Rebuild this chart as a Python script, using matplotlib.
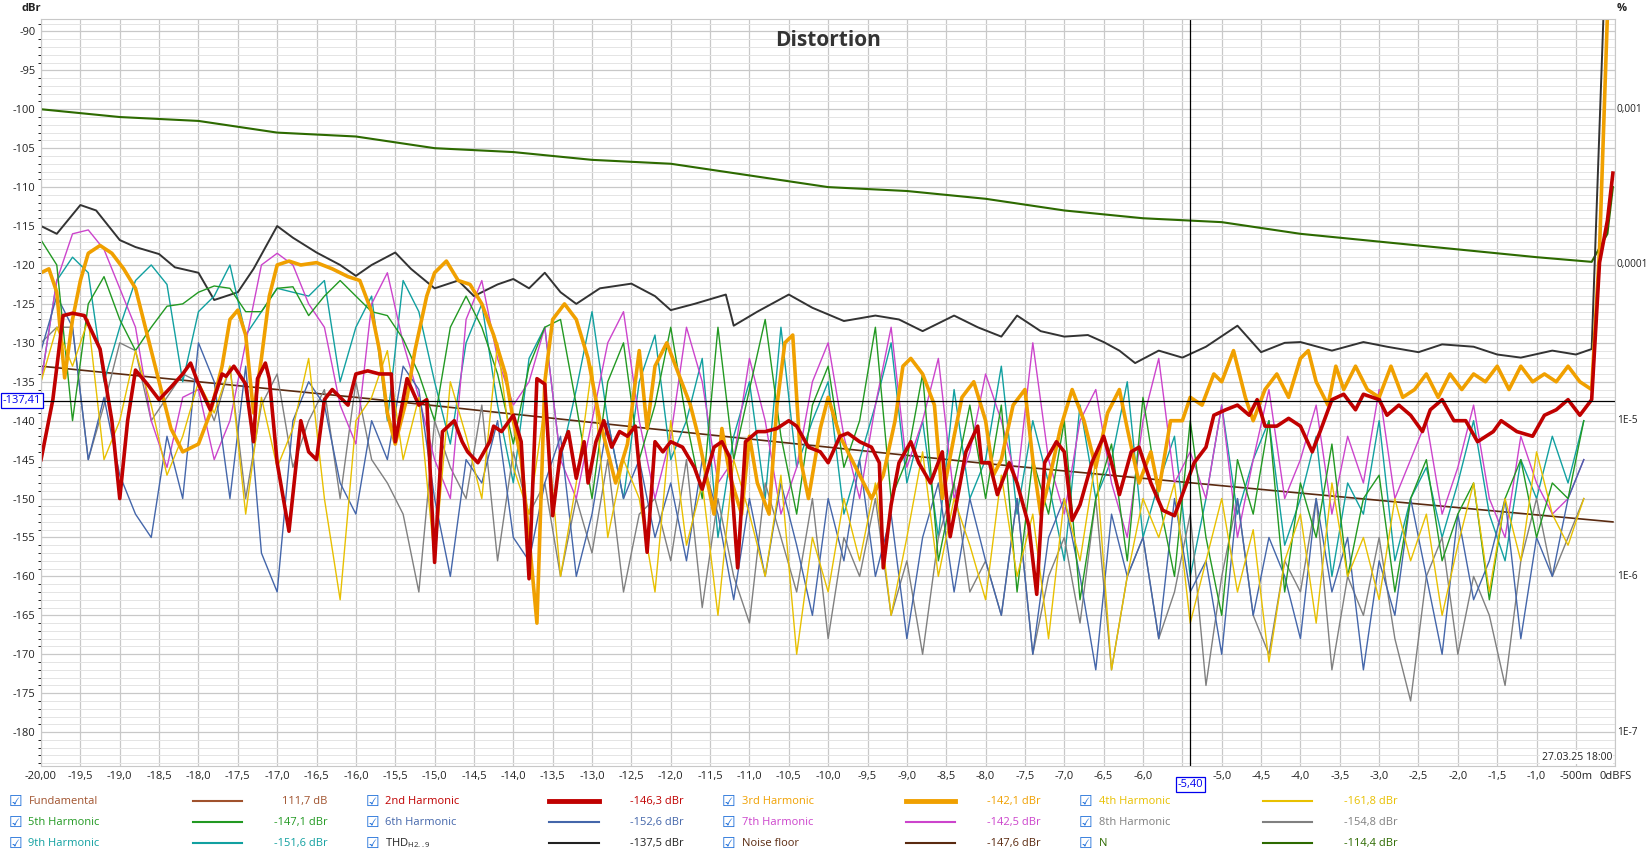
import numpy as np
import matplotlib
matplotlib.use("Agg")
import matplotlib.pyplot as plt
from matplotlib.lines import Line2D

plt.rcParams["font.family"] = ["Open Sans", "DejaVu Sans"]

# ---- data (dBr vs dBFS) ----
h2_x = [-20, -19.85, -19.72, -19.6, -19.45, -19.25, -19.1, -19.0, -18.9, -18.8, -18.65, -18.5, -18.35, -18.2, -18.1,
        -18.0, -17.85, -17.7, -17.65, -17.55, -17.4, -17.3, -17.25, -17.15, -17.1, -17.0, -16.85, -16.7, -16.6, -16.5,
        -16.4, -16.3, -16.1, -16.0, -15.85, -15.7, -15.55, -15.5, -15.35, -15.2, -15.1, -15.0, -14.9, -14.75, -14.65,
        -14.58, -14.45, -14.3, -14.25, -14.15, -14.0, -13.9, -13.8, -13.7, -13.6, -13.5, -13.4, -13.3, -13.2, -13.1,
        -13.05, -12.95, -12.85, -12.75, -12.65, -12.55, -12.45, -12.3, -12.2, -12.1, -12.0, -11.85, -11.7, -11.6,
        -11.45, -11.35, -11.25, -11.15, -11.05, -10.9, -10.8, -10.65, -10.5, -10.4, -10.25, -10.1, -10.0, -9.85,
        -9.75, -9.6, -9.45, -9.35, -9.3, -9.2, -9.1, -8.95, -8.85, -8.7, -8.55, -8.45, -8.35, -8.25, -8.1, -8.05,
        -7.95, -7.85, -7.7, -7.6, -7.45, -7.35, -7.25, -7.1, -7.0, -6.9, -6.8, -6.65, -6.5, -6.4, -6.3, -6.15, -6.05,
        -5.9, -5.75, -5.6, -5.5, -5.35, -5.2, -5.1, -4.95, -4.8, -4.65, -4.55, -4.45, -4.3, -4.15, -4.0, -3.85, -3.75,
        -3.6, -3.45, -3.3, -3.2, -3.0, -2.9, -2.75, -2.6, -2.45, -2.35, -2.2, -2.05, -1.9, -1.75, -1.55, -1.45, -1.25,
        -1.05, -0.9, -0.75, -0.6, -0.45, -0.3, -0.2, -0.1, -0.03]
h2_y = [-145, -137.3, -126.5, -126.2, -126.5, -130.8, -140, -150, -140, -133.5, -135.3, -137.3, -135.7, -134, -132.6,
        -135.3, -138.6, -134, -134.3, -133, -135.3, -142.7, -134.6, -132.6, -134.6, -145.4, -154.2, -140, -144, -145,
        -137.3, -136, -138, -134, -133.6, -134, -134, -142.7, -134.6, -138, -137.3, -158.2, -141.4, -140, -142.7,
        -144, -145.4, -142.7, -140.7, -141.4, -139.3, -142.7, -160.3, -134.6, -135.3, -152.2, -144, -141.4, -147.4, -142.7,
        -148, -142.7, -140, -143.4, -141.4, -142, -140.7, -156.9, -142.7, -144, -142.7, -143.4, -146, -148.8,
        -143.4, -142.7, -144.7, -158.9, -142.7, -141.4, -141.4, -141, -140, -140.7, -143.4, -144, -145.4, -142,
        -141.6, -142.7, -143.4, -145.4, -158.9, -150.8, -145.4, -142.7, -145.4, -148, -144, -154.9, -149.5, -144, -140.7, -145.4,
        -145.4, -149.5, -145.4, -148, -153.5, -162.3, -145.4, -142.7, -144, -152.8, -150.8, -145.4, -142, -145.4, -149.5, -144, -143.4,
        -148, -151.5, -152.2, -149.5, -145.4, -143.4, -139.3, -138.6, -138, -139.3, -137.3, -140.7, -140.7, -139.7, -140.7, -144, -141.4,
        -137.3, -136.6, -138.6, -136.6, -137.3, -139.3, -138, -139.3, -141.4, -138.6, -137.3, -140, -140, -142.7, -141.4, -140, -141.4,
        -142, -139.3, -138.6, -137.3, -139.3, -137.3, -119.7, -114.3, -108.2]

h3_x = [-20, -19.9, -19.8, -19.7, -19.6, -19.5, -19.4, -19.25, -19.1, -18.95, -18.8, -18.65, -18.5, -18.35, -18.2, -18.0,
        -17.85, -17.7, -17.6, -17.5, -17.4, -17.3, -17.2, -17.1, -17.0, -16.85, -16.7, -16.5, -16.3, -16.1, -15.95, -15.8,
        -15.7, -15.6, -15.5, -15.35, -15.25, -15.1, -15.0, -14.85, -14.7, -14.55, -14.4, -14.25, -14.1, -14.0, -13.9,
        -13.8, -13.7, -13.6, -13.5, -13.35, -13.2, -13.05, -12.9, -12.8, -12.7, -12.55, -12.4, -12.3, -12.2, -12.05,
        -11.9, -11.75, -11.65, -11.55, -11.45, -11.35, -11.25, -11.1, -11.0, -10.9, -10.75, -10.65, -10.55, -10.45,
        -10.35, -10.25, -10.1, -10.0, -9.85, -9.7, -9.55, -9.45, -9.3, -9.15, -9.05, -8.95, -8.8, -8.65, -8.55, -8.4,
        -8.3, -8.15, -8.0, -7.9, -7.8, -7.65, -7.5, -7.4, -7.3, -7.2, -7.05, -6.9, -6.75, -6.6, -6.45, -6.3, -6.2, -6.05,
        -5.9, -5.8, -5.65, -5.5, -5.4, -5.25, -5.1, -5.0, -4.85, -4.7, -4.6, -4.45, -4.3, -4.15, -4.0, -3.9, -3.8, -3.65,
        -3.55, -3.45, -3.3, -3.15, -3.0, -2.85, -2.7, -2.55, -2.4, -2.25, -2.1, -1.95, -1.8, -1.65, -1.5, -1.35, -1.2,
        -1.05, -0.9, -0.75, -0.6, -0.45, -0.3, -0.2, -0.1]
h3_y = [-121, -120.5, -123.5, -134.5, -127, -122, -118.5, -117.5, -118.5, -120.5, -123, -129, -135, -141, -144, -143,
        -139, -133, -127, -125.8, -129, -139, -132, -124, -120, -119.5, -120, -119.7, -120.5, -121.5, -122, -126,
        -131, -139, -143, -137, -131, -124, -121, -119.5, -122, -122.5, -125, -129, -134, -140, -145,
        -155, -166, -135, -127, -125, -127, -132, -140, -144, -148, -143, -131, -141, -133, -130,
        -134, -138, -142, -147, -152, -141, -147, -152, -142, -148, -152, -138, -130, -129,
        -145, -150, -141, -137, -142, -145, -148, -150, -147, -140, -133, -132, -134, -138, -150, -142,
        -137, -135, -140, -147, -145, -138, -136, -145, -152, -148, -141, -136, -140, -146, -139, -136, -141, -148,
        -144, -149, -140, -140, -137, -138, -134, -135, -131, -137, -140, -136, -134, -137, -132, -131, -135, -138,
        -133, -136, -133, -136, -137, -133, -137, -136, -134, -137, -134, -136, -134, -135, -133, -136, -133,
        -135, -134, -135, -133, -135, -136, -118, -88]

thd_x = [-20, -19.8, -19.5, -19.3, -19.0, -18.8, -18.5, -18.3, -18.0, -17.8, -17.5, -17.3, -17.0, -16.8, -16.5, -16.2,
         -16.0, -15.8, -15.5, -15.3, -15.0, -14.7, -14.5, -14.2, -14.0, -13.8, -13.6, -13.4, -13.2, -12.9, -12.5, -12.2,
         -12.0, -11.7, -11.3, -11.2, -10.9, -10.5, -10.2, -9.8, -9.4, -9.1, -8.8, -8.4, -8.1, -7.8, -7.6, -7.3, -7.0,
         -6.7, -6.5, -6.3, -6.1, -5.8, -5.5, -5.2, -4.8, -4.5, -4.2, -4.0, -3.6, -3.2, -2.9, -2.5, -2.2, -1.8, -1.5,
         -1.2, -0.8, -0.5, -0.3, -0.15]
thd_y = [-115, -116, -112.3, -113, -116.8, -117.7, -118.6, -120.3, -121, -124.5, -123.5, -120.5, -115, -116.5, -118.4, -120,
         -121.4, -120, -118.4, -120.5, -123, -122, -124, -122.5, -121.8, -123, -121, -123.5, -125, -123, -122.4, -124,
         -125.8, -125, -123.8, -127.8, -126, -123.8, -125.5, -127.2, -126.5, -127, -128.5, -126.5, -128, -129.2, -126.5, -128.5, -129.2,
         -129, -129.9, -131, -132.6, -131, -131.9, -130.5, -127.8, -131.2, -130, -129.9, -131, -129.9, -130.5, -131.2, -130.2, -130.5, -131.5,
         -131.9, -131, -131.5, -130.8, -88]

n_x = [-20, -19, -18, -17, -16, -15, -14, -13, -12, -11, -10, -9, -8, -7, -6, -5, -4, -3, -2, -1, -0.3, -0.1, -0.03]
n_y = [-100, -101, -101.5, -103, -103.5, -105, -105.5, -106.5, -107, -108.5, -110, -110.5, -111.5, -113,
       -114, -114.5, -116, -117, -118, -119, -119.6, -116, -110]

noise_x = [-20, -16, -12, -8, -4, -0.03]
noise_y = [-133, -137, -141.3, -145.5, -149.3, -153]

step_x = np.arange(-20, -0.3, 0.2)  # 99 points
h4_y = [-135, -128, -133, -127, -145, -140, -131, -138, -147, -142,
        -135, -139, -133, -152, -137, -146, -141, -132, -150, -163,
        -140, -137, -131, -145, -137, -158, -135, -142, -150, -130,
        -146, -152, -138, -160, -148, -133, -155, -145, -150, -162,
        -140, -156, -148, -165, -145, -152, -160, -147, -170, -155,
        -162, -150, -158, -148, -165, -155, -144, -160, -150, -156,
        -163, -147, -160, -152, -168, -150, -158, -145, -172, -160,
        -150, -155, -148, -166, -158, -150, -162, -154, -171, -158,
        -152, -166, -148, -160, -155, -163, -150, -158, -152, -165,
        -156, -148, -162, -150, -158, -144, -152, -156, -150]
h5_y = [-116.8, -120, -140, -125, -121.5, -127, -131, -128, -125.3, -125,
        -123.5, -122.7, -123, -126, -126, -123, -122.8, -126.5, -124, -122,
        -124, -126, -126.5, -129.5, -134, -140, -128, -124, -128, -134,
        -143, -133, -128, -127, -138, -150, -135, -130, -145, -138,
        -128, -140, -150, -128, -145, -136, -127, -142, -152, -138,
        -133, -146, -140, -128, -150, -145, -134, -158, -148, -138,
        -150, -138, -162, -145, -152, -140, -163, -150, -143, -158,
        -137, -150, -160, -140, -155, -165, -145, -152, -140, -162,
        -148, -155, -143, -160, -150, -147, -162, -150, -145, -158,
        -152, -148, -163, -150, -145, -155, -148, -150, -140]
h6_y = [-131, -124, -128, -145, -137, -147, -152, -155, -142, -150,
        -130, -135, -150, -133, -157, -162, -140, -135, -138, -148,
        -152, -140, -145, -133, -136, -150, -160, -145, -148, -140,
        -155, -158, -148, -142, -160, -152, -140, -150, -145, -155,
        -148, -158, -145, -152, -163, -150, -160, -148, -156, -165,
        -150, -158, -145, -160, -152, -168, -155, -148, -162, -150,
        -158, -165, -150, -170, -155, -150, -160, -172, -152, -160,
        -155, -168, -150, -162, -158, -170, -150, -165, -155, -160,
        -168, -150, -162, -155, -172, -158, -165, -150, -160, -170,
        -152, -163, -158, -150, -168, -155, -160, -150, -145]
h7_y = [-135, -122, -116, -115.5, -118, -123, -128, -140, -146, -137,
        -136, -145, -140, -130, -120, -118.5, -120, -125, -128, -138,
        -143, -125, -121, -130, -137, -145, -150, -127, -122, -132,
        -138, -135, -128, -145, -150, -140, -130, -126, -140, -150,
        -142, -128, -135, -148, -145, -132, -140, -152, -146, -135,
        -130, -142, -150, -138, -128, -146, -140, -132, -150, -144,
        -134, -140, -148, -130, -145, -152, -140, -136, -148, -155,
        -140, -132, -148, -144, -150, -138, -155, -145, -136, -150,
        -145, -138, -152, -142, -148, -136, -150, -145, -140, -152,
        -146, -138, -150, -155, -142, -148, -152, -150, -145]
h8_y = [-130, -128, -128, -145, -138, -130, -131, -140, -137, -134,
        -135, -140, -133, -150, -138, -134, -146, -140, -136, -150,
        -135, -145, -148, -152, -162, -140, -146, -150, -138, -158,
        -144, -152, -148, -160, -150, -157, -145, -162, -152, -150,
        -158, -145, -164, -150, -160, -166, -148, -155, -162, -150,
        -168, -155, -160, -150, -165, -158, -170, -155, -148, -162,
        -158, -165, -150, -170, -160, -155, -166, -150, -172, -160,
        -155, -168, -162, -152, -174, -160, -150, -165, -170, -158,
        -162, -150, -172, -160, -165, -155, -168, -176, -160, -155,
        -170, -160, -165, -174, -158, -150, -160, -155, -150]
h9_y = [-135, -122, -119, -121, -135, -128, -122, -120, -122.5, -135,
        -126, -124, -120, -129, -126, -123, -123.5, -124, -122, -135,
        -128, -124, -140, -122, -126, -135, -143, -130, -125, -138,
        -148, -132, -128, -145, -136, -126, -140, -150, -135, -129,
        -145, -140, -132, -155, -142, -135, -150, -128, -146, -140,
        -135, -152, -145, -138, -130, -148, -140, -155, -136, -150,
        -145, -133, -152, -140, -148, -158, -138, -150, -145, -135,
        -155, -148, -142, -160, -150, -138, -152, -145, -140, -156,
        -150, -142, -160, -148, -152, -140, -158, -150, -146, -155,
        -148, -140, -152, -158, -145, -150, -142, -148, -140]

legend_rows = [
    [("Fundamental", "#a0522d", 1.5, "111,7 dB"), ("2nd Harmonic", "#c00000", 3.5, "-146,3 dBr"),
     ("3rd Harmonic", "#f0a000", 3.5, "-142,1 dBr"), ("4th Harmonic", "#e8c000", 1.5, "-161,8 dBr")],
    [("5th Harmonic", "#229922", 1.5, "-147,1 dBr"), ("6th Harmonic", "#4466aa", 1.5, "-152,6 dBr"),
     ("7th Harmonic", "#cc44cc", 1.5, "-142,5 dBr"), ("8th Harmonic", "#808080", 1.5, "-154,8 dBr")],
    [("9th Harmonic", "#11a0a0", 1.5, "-151,6 dBr"), ("THD$_{\\mathregular{H2..9}}$", "#222222", 1.5, "-137,5 dBr"),
     ("Noise floor", "#5a2a10", 1.5, "-147,6 dBr"), ("N", "#2d6a00", 1.5, "-114,4 dBr")],
]

W, H = 1568.0, 813.0
fig = plt.figure(figsize=(16.5, 8.55), dpi=100)
ax = fig.add_axes([39 / W, 1 - 728 / H, (1535 - 39) / W, (728 - 18) / H])

ax.set_xlim(-20, 0)
ax.set_ylim(-184.3, -88.4)
ax.set_yticks(np.arange(-180, -89, 5))
ax.set_yticks(np.arange(-184, -88, 1), minor=True)
ax.set_yticklabels([f"{v}" for v in range(-180, -89, 5)])
xt = np.arange(-20, 0.01, 0.5)
ax.set_xticks(xt)
labels = []
for v in xt:
    if v == -20:
        labels.append("-20,00")
    elif v == -0.5:
        labels.append("-500m")
    elif v == 0:
        labels.append("0dBFS")
    elif v == -5.5:
        labels.append("")  # hidden behind the cursor readout
    else:
        labels.append(f"{v:.1f}".replace(".", ","))
ax.set_xticklabels(labels)
ax.grid(which="major", color="#c8c8c8", lw=0.9)
ax.grid(which="minor", axis="y", color="#e4e4e4", lw=0.7)
ax.tick_params(length=0, labelsize=8, colors="#222222", pad=4)
for s in ax.spines.values():
    s.set_color("#c8c8c8")

ax.plot(n_x, n_y, color="#2d6a00", lw=1.5)
ax.plot(noise_x, noise_y, color="#5a2a10", lw=1.2)
ax.plot(thd_x, thd_y, color="#333333", lw=1.4)
ax.plot(step_x, h9_y, color="#11a0a0", lw=1.0)
ax.plot(step_x, h8_y, color="#808080", lw=1.0)
ax.plot(step_x, h7_y, color="#cc44cc", lw=1.0)
ax.plot(step_x, h6_y, color="#4466aa", lw=1.0)
ax.plot(step_x, h5_y, color="#229922", lw=1.0)
ax.plot(step_x, h4_y, color="#e8c000", lw=1.0)
ax.plot(h3_x, h3_y, color="#f0a000", lw=2.6)
ax.plot(h2_x, h2_y, color="#c00000", lw=2.6)

# cursor
ax.axvline(-5.40, color="black", lw=0.9)
ax.axhline(-137.41, color="black", lw=0.9)
box = dict(boxstyle="square,pad=0.15", fc="white", ec="#0000ee", lw=0.9)
ax.text(-5.40, -184.3 - 1.7, "-5,40", color="#0000ee", fontsize=8, ha="center", va="top", bbox=box, clip_on=False)
ax.text(-20, -137.41, "-137,41", color="#0000ee", fontsize=8, ha="right", va="center", bbox=box, clip_on=False)

ax.text(0.5, 0.985, "Distortion", transform=ax.transAxes, ha="center", va="top", fontsize=15, fontweight="bold",
        color="#333333")
ax.text(0.998, 0.004, "27.03.25 18:00", transform=ax.transAxes, ha="right", va="bottom", fontsize=7.5,
        color="#222222", bbox=dict(fc="white", ec="none", pad=1))

# right axis percent labels
for val, lab in [(-100, "0,001"), (-120, "0,0001"), (-140, "1E-5"), (-160, "1E-6"), (-180, "1E-7")]:
    ax.text(1.001, (val + 184.3) / 95.9, lab, transform=ax.transAxes, fontsize=7.3, va="center", ha="left",
            color="#222222")
fig.text(20 / W, 1 - 8 / H, "dBr", fontsize=8, fontweight="bold", va="center", color="#222222")
fig.text(1541 / W, 1 - 8 / H, "%", fontsize=8, fontweight="bold", va="center", ha="center", color="#222222")

# legend
for r, row in enumerate(legend_rows):
    yf = 1 - (762 + 20 * r) / H
    for c, (name, col, lw, val) in enumerate(row):
        x0 = 8 + 339 * c
        fig.text(x0 / W, yf, "\u2611", fontsize=11, color="#1e6fd9", va="center", family=["DejaVu Sans"])
        tcol = "#222222" if name.startswith("THD") else col
        fig.text((x0 + 19) / W, yf, name, fontsize=8, color=tcol, va="center")
        fig.add_artist(Line2D([(x0 + 175) / W, (x0 + 222) / W], [yf, yf], color=col, lw=lw,
                              transform=fig.transFigure))
        fig.text((x0 + 303) / W, yf, val, fontsize=8, color=col, va="center", ha="right")

fig.savefig("out.png", dpi=100)
